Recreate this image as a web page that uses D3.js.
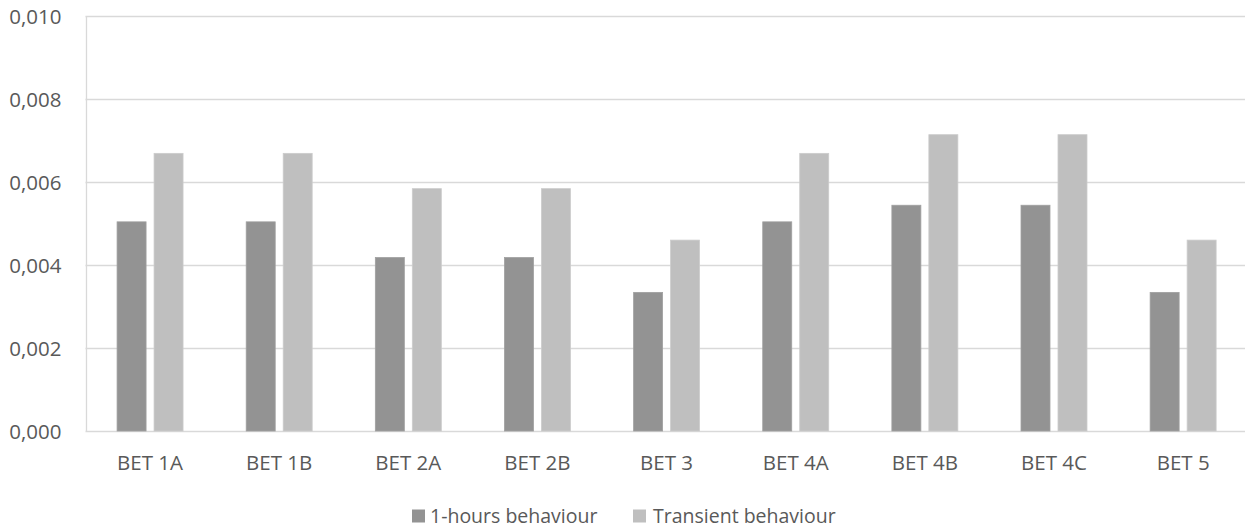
<!DOCTYPE html>
<html>
<head>
<meta charset="utf-8">
<script src="https://cdn.jsdelivr.net/npm/d3@7/dist/d3.min.js"></script>
<style>
  html, body { margin: 0; padding: 0; background: #ffffff; }
  svg { display: block; }
  text { font-family: "Open Sans", "Noto Sans", sans-serif; fill: #595959; }
</style>
</head>
<body>
<svg id="chart" width="1245" height="528"></svg>
<script>
// Chart data
const categories = ["BET 1A", "BET 1B", "BET 2A", "BET 2B", "BET 3", "BET 4A", "BET 4B", "BET 4C", "BET 5"];
const seriesNames = ["1-hours behaviour", "Transient behaviour"];
const oneHourValues = [0.00504, 0.00504, 0.00418, 0.00418, 0.00334, 0.00504, 0.00544, 0.00544, 0.00334];
const transientValues = [0.00669, 0.00669, 0.00584, 0.00584, 0.00460, 0.00669, 0.00714, 0.00714, 0.00460];
const yTicks = [0, 0.002, 0.004, 0.006, 0.008, 0.010];
const seriesColors = ["#939393", "#bfbfbf"];

const seriesValues = [oneHourValues, transientValues];
const rows = categories.map((c, i) => ({
  category: c,
  values: seriesNames.map((s, k) => ({ series: s, value: seriesValues[k][i] }))
}));

const svg = d3.select("#chart");
const plot = { left: 85.5, right: 1247.7, top: 16, bottom: 431 };

const y = d3.scaleLinear().domain([0, 0.010]).range([plot.bottom, plot.top]);
const x0 = d3.scaleBand().domain(categories).range([plot.left, plot.right])
  .paddingInner(0.489).paddingOuter(0.2445);
const x1 = d3.scaleBand().domain(seriesNames).range([0, x0.bandwidth()])
  .paddingInner(0.216).paddingOuter(0);
const color = d3.scaleOrdinal().domain(seriesNames).range(seriesColors);

const fmt = v => d3.format(".3f")(v).replace(".", ",");

// Horizontal gridlines
svg.append("g")
  .selectAll("line")
  .data(yTicks)
  .join("line")
  .attr("x1", plot.left).attr("x2", plot.right)
  .attr("y1", d => Math.round(y(d)) + 0.5).attr("y2", d => Math.round(y(d)) + 0.5)
  .attr("stroke", "#d9d9d9").attr("stroke-width", 1.3);

// Left border of the plot area
svg.append("line")
  .attr("x1", Math.round(plot.left) + 0.5).attr("x2", Math.round(plot.left) + 0.5)
  .attr("y1", plot.top).attr("y2", plot.bottom)
  .attr("stroke", "#d9d9d9").attr("stroke-width", 1.3);

// Y axis labels
const yAxis = d3.axisLeft(y).tickValues(yTicks).tickFormat(fmt).tickSize(0).tickPadding(24);
const gy = svg.append("g").attr("transform", `translate(${plot.left},0)`).call(yAxis);
gy.select(".domain").remove();
gy.selectAll("text").style("font-size", "20.5px").attr("fill", "#595959").attr("dy", "0.36em");

// Bars
svg.append("g")
  .selectAll("g")
  .data(rows)
  .join("g")
  .attr("transform", d => `translate(${x0(d.category)},0)`)
  .selectAll("rect")
  .data(d => d.values)
  .join("rect")
  .attr("x", d => x1(d.series))
  .attr("width", x1.bandwidth())
  .attr("y", d => y(d.value))
  .attr("height", d => y(0) - y(d.value))
  .attr("fill", d => color(d.series))
  .attr("stroke", d => d.series === seriesNames[0] ? "#a0a0a0" : "#cccccc")
  .attr("stroke-width", 0.8);

// X axis labels
const xAxis = d3.axisBottom(x0).tickSize(0).tickPadding(24.5);
const gx = svg.append("g").attr("transform", `translate(0,${plot.bottom})`).call(xAxis);
gx.select(".domain").remove();
gx.selectAll("text").style("font-size", "20.5px").attr("fill", "#595959");

// Legend
const legendItems = [
  { name: seriesNames[0], sx: 412, tx: 430 },
  { name: seriesNames[1], sx: 633, tx: 653 }
];
const lg = svg.append("g");
lg.selectAll("rect")
  .data(legendItems)
  .join("rect")
  .attr("x", d => d.sx).attr("y", 509.5)
  .attr("width", 13).attr("height", 13)
  .attr("fill", d => color(d.name));
lg.selectAll("text")
  .data(legendItems)
  .join("text")
  .attr("x", d => d.tx).attr("y", 516)
  .attr("dy", "0.35em")
  .style("font-size", "19.5px")
  .text(d => d.name);
</script>
</body>
</html>
